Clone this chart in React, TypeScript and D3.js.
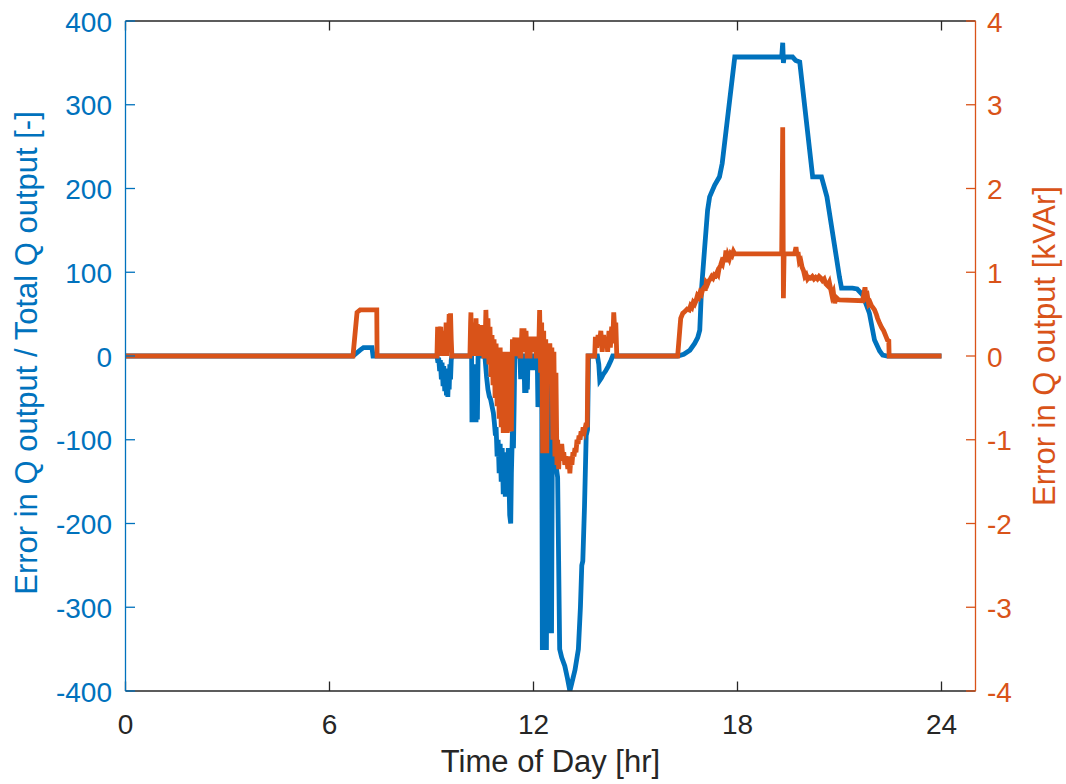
import React from 'react';
import * as d3 from 'd3';

// Canvas and plot box
const W = 1066;
const H = 784;
const BOX = { left: 125.5, right: 975.5, top: 21, bottom: 691 };

const BLUE = '#0072BD';
const ORANGE = '#D95319';
const INK = '#262626';
const FONT = '"Liberation Sans", Arial, Helvetica, sans-serif';

// Axis ticks
const xTicks = [0, 6, 12, 18, 24];
const leftTicks = [-400, -300, -200, -100, 0, 100, 200, 300, 400];
const rightTicks = [-4, -3, -2, -1, 0, 1, 2, 3, 4];

// Relative error: error in Q output / total Q output [-]  ([hour, value])
const ratioMorning: [number, number][] = [
  [0, 0], [6.69, 0], [6.9, 7], [7.0, 10], [7.25, 10], [7.28, 0], [9.16, 0],
  [9.19, -8], [9.21, -2], [9.24, -18], [9.26, -5], [9.29, -28], [9.31, -8], [9.34, -36],
  [9.36, -12], [9.39, -42], [9.41, -15], [9.44, -47], [9.46, -20], [9.48, -49], [9.5, -22],
  [9.52, -40], [9.54, -10], [9.56, -28], [9.58, -5], [9.6, 0], [10.18, 0],
  [10.19, -79], [10.21, -10], [10.23, -79], [10.25, -10], [10.27, -79], [10.29, -10],
  [10.31, -79], [10.33, -20], [10.35, -76], [10.37, 0], [10.57, 0],
];

const ratioMidday: [number, number][] = [
  [10.62, -25], [10.66, -40], [10.7, -48], [10.74, -52], [10.78, -60], [10.82, -68],
  [10.85, -80], [10.88, -95], [10.9, -85], [10.93, -120], [10.96, -100], [10.99, -140],
  [11.02, -105], [11.05, -150], [11.08, -110], [11.11, -165], [11.14, -115], [11.17, -168],
  [11.2, -120], [11.23, -150], [11.26, -110], [11.3, -190], [11.33, -200], [11.35, -140],
  [11.38, -90], [11.41, -110], [11.43, -60], [11.45, 0], [11.6, 0], [11.62, -25],
  [11.65, -25], [11.67, 0], [11.72, 0], [11.74, -44], [11.76, -10], [11.78, -44],
  [11.8, -20], [11.82, -40], [11.84, 0], [11.93, 0], [11.95, -14], [12.02, -14], [12.05, 0],
  [12.11, 0], [12.13, -61], [12.16, 0], [12.24, 0], [12.26, -351], [12.29, -120],
  [12.32, -351], [12.35, -100], [12.38, -351], [12.41, -90], [12.44, -20], [12.47, -331],
  [12.5, -40], [12.53, -331], [12.56, -60], [12.6, -100], [12.66, -130], [12.71, -145],
  [12.77, -350], [12.83, -360], [12.92, -370], [13.0, -385], [13.07, -400], [13.13, -390],
  [13.22, -375], [13.32, -350], [13.38, -300], [13.42, -250], [13.45, -245], [13.5, -180],
  [13.55, -95], [13.59, -88], [13.62, 0], [13.88, 0], [13.92, -10], [13.95, -29],
  [14.0, -26], [14.05, -22], [14.12, -18], [14.2, -12], [14.28, -5], [14.33, 0],
];

const ratioEvening: [number, number][] = [
  [16.24, 0], [16.42, 2], [16.6, 7], [16.74, 15], [16.83, 22], [16.89, 31], [16.94, 79],
  [17.03, 127], [17.12, 174], [17.18, 190], [17.33, 204], [17.47, 214], [17.55, 230],
  [17.92, 357], [19.3, 357], [19.33, 374], [19.35, 350], [19.37, 357], [19.62, 357],
  [19.71, 353], [19.83, 351], [20.21, 214], [20.47, 214], [20.63, 190], [21.0, 94],
  [21.06, 81], [21.38, 81], [21.52, 80], [21.68, 73], [21.88, 51], [22.03, 19],
  [22.18, 6], [22.27, 1], [22.41, 0], [24, 0],
];

// Absolute error in Q output [kVAr]  ([hour, value])
const errorMorning: [number, number][] = [
  [0, 0], [6.69, 0], [6.81, 0.52], [6.9, 0.55], [7.39, 0.55], [7.4, 0], [9.16, 0],
  [9.18, 0.35], [9.2, 0], [9.22, 0.35], [9.24, 0.05], [9.27, 0.35], [9.29, 0], [9.31, 0.3],
  [9.34, 0], [9.37, 0.25], [9.4, 0.05], [9.43, 0.4], [9.45, 0], [9.47, 0.3], [9.49, 0.1],
  [9.52, 0.5], [9.54, 0.1], [9.56, 0.51], [9.58, 0.2], [9.6, 0], [10.13, 0],
  [10.15, 0.4], [10.16, 0.52], [10.17, 0.1], [10.19, 0.38], [10.21, 0], [10.23, 0.38],
  [10.25, 0], [10.27, 0.4], [10.29, 0.05], [10.31, 0.45], [10.33, 0], [10.35, 0.38],
  [10.37, 0], [10.39, 0.37], [10.42, 0.05], [10.45, 0.37], [10.48, 0], [10.51, 0.35],
  [10.54, 0], [10.57, 0],
];

const errorMidday: [number, number][] = [
  [10.6, 0.55], [10.63, 0.1], [10.66, 0.45], [10.69, -0.1], [10.72, 0.35], [10.75, -0.25],
  [10.78, 0.25], [10.81, -0.35], [10.84, 0.2], [10.87, -0.5], [10.9, 0.15], [10.93, -0.6],
  [10.96, 0.1], [10.99, -0.75], [11.02, 0.1], [11.05, -0.85], [11.08, 0.05], [11.11, -0.92],
  [11.14, 0.05], [11.17, -0.9], [11.2, 0], [11.23, -0.92], [11.26, 0.05], [11.29, -0.88],
  [11.32, 0], [11.35, -0.9], [11.38, 0.2], [11.41, 0.05], [11.45, 0.22], [11.48, 0],
  [11.51, 0.22], [11.54, 0.05], [11.57, 0.22], [11.6, 0], [11.63, 0], [11.66, 0.33],
  [11.69, 0.05], [11.72, 0.33], [11.75, 0.1], [11.78, 0.3], [11.81, 0], [11.9, 0],
  [11.93, 0.23], [11.96, 0.05], [11.99, 0.23], [12.02, 0.1], [12.05, 0.23], [12.08, 0],
  [12.15, 0], [12.18, 0.55], [12.21, -0.2], [12.24, 0.4], [12.27, -1.16], [12.3, 0.3],
  [12.33, -1.1], [12.36, 0.2], [12.39, -1.16], [12.42, 0.1], [12.45, -0.3], [12.48, 0.15],
  [12.51, -0.2], [12.54, 0.1], [12.57, -1.0], [12.6, 0.05], [12.63, -1.2], [12.66, -0.2],
  [12.69, -1.3], [12.71, -1.0], [12.74, -1.35], [12.77, -1.1], [12.8, -1.25], [12.83, -1.05],
  [12.86, -1.2], [12.89, -1.15], [12.92, -1.3], [12.95, -1.2], [12.98, -1.25], [13.01, -1.35],
  [13.04, -1.2], [13.07, -1.4], [13.1, -1.2], [13.13, -1.3], [13.16, -1.15], [13.19, -1.2],
  [13.22, -1.1], [13.25, -1.15], [13.28, -1.0], [13.31, -1.05], [13.34, -0.95], [13.37, -1.0],
  [13.4, -0.9], [13.43, -0.95], [13.46, -0.85], [13.5, -0.9], [13.55, -0.8], [13.58, -0.85],
  [13.6, 0], [13.8, 0], [13.82, 0.23], [13.86, 0.1], [13.9, 0.25], [13.94, 0.15],
  [13.98, 0.3], [14.02, 0.05], [14.06, 0.25], [14.1, 0.1], [14.15, 0.22], [14.18, 0.05],
  [14.22, 0.3], [14.26, 0.1], [14.3, 0.35], [14.33, 0.15], [14.36, 0.52], [14.39, 0.3],
  [14.42, 0.4], [14.45, 0],
];

const errorEvening: [number, number][] = [
  [16.24, 0], [16.3, 0.3], [16.33, 0.45], [16.39, 0.51], [16.45, 0.53], [16.52, 0.56],
  [16.58, 0.55], [16.62, 0.6], [16.66, 0.58], [16.7, 0.64], [16.74, 0.62], [16.78, 0.66],
  [16.82, 0.72], [16.86, 0.7], [16.9, 0.76], [16.94, 0.74], [16.98, 0.8], [17.02, 0.82],
  [17.05, 0.78], [17.08, 0.88], [17.12, 0.86], [17.16, 0.9], [17.2, 0.92], [17.24, 0.95],
  [17.28, 0.93], [17.32, 0.97], [17.36, 0.96], [17.4, 1.0], [17.43, 0.98], [17.46, 1.05],
  [17.5, 1.08], [17.53, 1.12], [17.56, 1.1], [17.6, 1.18], [17.63, 1.14], [17.66, 1.26],
  [17.69, 1.12], [17.72, 1.2], [17.76, 1.16], [17.8, 1.22], [17.84, 1.2], [17.88, 1.25],
  [17.92, 1.22], [19.3, 1.22], [19.33, 2.73], [19.35, 0.69], [19.37, 1.22], [19.68, 1.22],
  [19.72, 1.3], [19.75, 1.2], [19.78, 1.24], [19.82, 1.12], [19.86, 1.14], [19.9, 1.06],
  [19.94, 1.02], [19.98, 0.95], [20.02, 0.97], [20.06, 0.92], [20.1, 0.94], [20.15, 0.93],
  [20.2, 0.95], [20.25, 0.92], [20.3, 0.94], [20.35, 0.92], [20.4, 0.95], [20.45, 0.93],
  [20.5, 0.9], [20.55, 0.92], [20.6, 0.86], [20.65, 0.84], [20.7, 0.88], [20.74, 0.8],
  [20.78, 0.72], [20.82, 0.76], [20.86, 0.63], [20.9, 0.7], [20.95, 0.68], [21.0, 0.67],
  [21.68, 0.66], [21.72, 0.75], [21.75, 0.82], [21.78, 0.7], [21.82, 0.72], [21.86, 0.62],
  [21.9, 0.64], [21.94, 0.6], [21.98, 0.58], [22.03, 0.55], [22.08, 0.5], [22.12, 0.45],
  [22.18, 0.39], [22.24, 0.34], [22.3, 0.3], [22.36, 0.24], [22.41, 0.19], [22.45, 0.18],
  [22.46, 0], [24, 0],
];

const ratioSeries = [...ratioMorning, ...ratioMidday, [14.45, 0] as [number, number], ...ratioEvening];
const errorSeries = [...errorMorning, ...errorMidday, ...errorEvening];

export default function App() {
  const x = d3.scaleLinear().domain([0, 25]).range([BOX.left, BOX.right]);
  const yL = d3.scaleLinear().domain([-400, 400]).range([BOX.bottom, BOX.top]);
  const yR = d3.scaleLinear().domain([-4, 4]).range([BOX.bottom, BOX.top]);

  const lineL = d3.line<[number, number]>().x((d) => x(d[0])).y((d) => yL(d[1]));
  const lineR = d3.line<[number, number]>().x((d) => x(d[0])).y((d) => yR(d[1]));

  const TICK = 9.5;
  const tickFs = 28;
  const labelFs = 31;
  const axisW = 1.3;
  const seriesW = 4.8;

  return (
    <svg
      width={W}
      height={H}
      viewBox={`0 0 ${W} ${H}`}
      style={{ position: 'absolute', left: 0, top: 0, background: '#fff' }}
      fontFamily={FONT}
    >
      <defs>
        <clipPath id="plotClip">
          <rect x={BOX.left} y={BOX.top} width={BOX.right - BOX.left} height={BOX.bottom - BOX.top} />
        </clipPath>
      </defs>
      <rect x={0} y={0} width={W} height={H} fill="#fff" />

      {/* data */}
      <g clipPath="url(#plotClip)">
        <path d={lineL(ratioSeries) || ''} fill="none" stroke={BLUE} strokeWidth={seriesW} />
        <path d={lineR(errorSeries) || ''} fill="none" stroke={ORANGE} strokeWidth={seriesW} />
      </g>

      {/* box: top and bottom */}
      <line x1={BOX.left} x2={BOX.right} y1={BOX.top} y2={BOX.top} stroke={INK} strokeWidth={axisW} />
      <line x1={BOX.left} x2={BOX.right} y1={BOX.bottom} y2={BOX.bottom} stroke={INK} strokeWidth={axisW} />

      {/* x ticks */}
      {xTicks.map((t) => (
        <g key={`x${t}`}>
          <line x1={x(t)} x2={x(t)} y1={BOX.bottom} y2={BOX.bottom - TICK} stroke={INK} strokeWidth={axisW} />
          <line x1={x(t)} x2={x(t)} y1={BOX.top} y2={BOX.top + TICK} stroke={INK} strokeWidth={axisW} />
          <text x={x(t)} y={734} textAnchor="middle" fontSize={tickFs} fill={INK}>
            {t}
          </text>
        </g>
      ))}
      <text x={(BOX.left + BOX.right) / 2} y={772} textAnchor="middle" fontSize={labelFs} fill={INK}>
        Time of Day [hr]
      </text>

      {/* left axis */}
      <line x1={BOX.left} x2={BOX.left} y1={BOX.top} y2={BOX.bottom} stroke={BLUE} strokeWidth={axisW} />
      {leftTicks.map((t) => (
        <g key={`l${t}`}>
          <line x1={BOX.left} x2={BOX.left + TICK} y1={yL(t)} y2={yL(t)} stroke={BLUE} strokeWidth={axisW} />
          <text x={112} y={yL(t) + 10.5} textAnchor="end" fontSize={tickFs} fill={BLUE}>
            {t}
          </text>
        </g>
      ))}
      <text
        transform={`translate(37,353) rotate(-90)`}
        textAnchor="middle"
        fontSize={labelFs}
        fill={BLUE}
      >
        Error in Q output / Total Q output [-]
      </text>

      {/* right axis */}
      <line x1={BOX.right} x2={BOX.right} y1={BOX.top} y2={BOX.bottom} stroke={ORANGE} strokeWidth={axisW} />
      {rightTicks.map((t) => (
        <g key={`r${t}`}>
          <line x1={BOX.right} x2={BOX.right - TICK} y1={yR(t)} y2={yR(t)} stroke={ORANGE} strokeWidth={axisW} />
          <text x={987} y={yR(t) + 10.5} textAnchor="start" fontSize={tickFs} fill={ORANGE}>
            {t}
          </text>
        </g>
      ))}
      <text
        transform={`translate(1055,346) rotate(-90)`}
        textAnchor="middle"
        fontSize={labelFs}
        fill={ORANGE}
      >
        Error in Q output [kVAr]
      </text>
    </svg>
  );
}
